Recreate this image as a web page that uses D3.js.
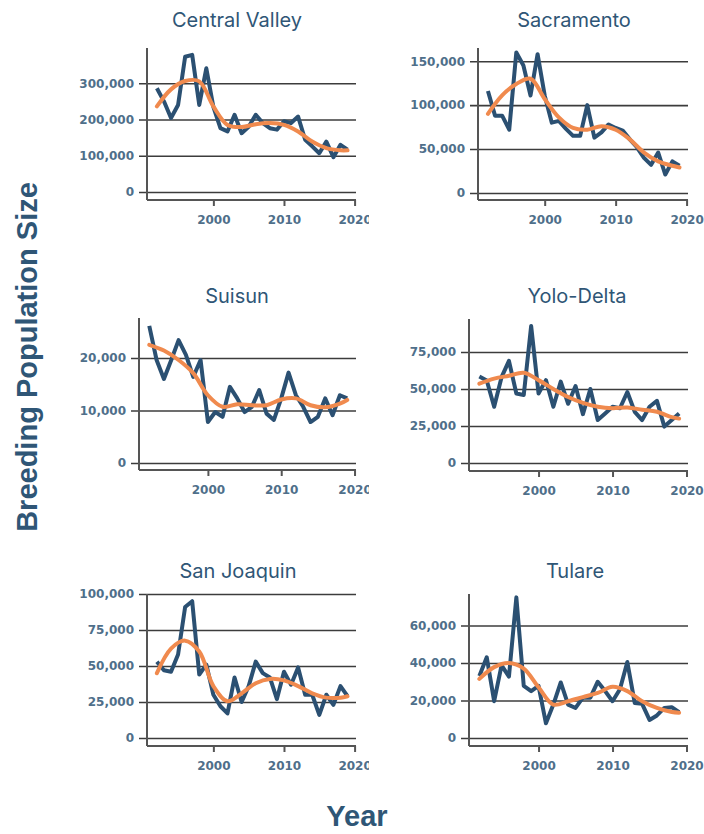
<!DOCTYPE html>
<html>
<head>
<meta charset="utf-8">
<script src="https://cdn.jsdelivr.net/npm/d3@7"></script>
<style>
  body { margin: 0; background: #fff; }
  .title { font-family: Inter, "Open Sans", sans-serif; font-size: 20px; fill: #2f5676; }
  .tick text { font-family: "DejaVu Sans", sans-serif; font-weight: bold; font-size: 12px; fill: #4f6f8a; }
  .axisText { font-family: "Liberation Sans", Arial, sans-serif; font-weight: bold; font-size: 29px; fill: #2f5676; }
</style>
</head>
<body>
<div class="chart"></div>
<script>
// Breeding population size by region, 1992-2019

var svgWidth = 704;
var svgHeight = 834;

var regions = ["Central Valley", "Sacramento", "Suisun", "Yolo-Delta", "San Joaquin", "Tulare"];

var years = [1992, 1993, 1994, 1995, 1996, 1997, 1998, 1999, 2000, 2001, 2002, 2003, 2004, 2005,
             2006, 2007, 2008, 2009, 2010, 2011, 2012, 2013, 2014, 2015, 2016, 2017, 2018, 2019];

// observed counts (blue)
var centralValley = [286000, 250000, 204000, 240000, 373000, 378000, 240000, 341000, 235000, 176000,
                     167000, 213000, 162000, 180000, 213000, 190000, 176000, 172000, 195000, 190000,
                     208000, 144000, 126000, 107000, 139000, 96000, 130000, 117000];
var sacramento = [116000, 88000, 88000, 72000, 160000, 145000, 111000, 158000, 111000, 80000,
                  82000, 73000, 65000, 65000, 100000, 63000, 69000, 78000, 74000, 71000,
                  61000, 52000, 40000, 32000, 46000, 21000, 36000, 31000];
var suisun = [26100, 19600, 16000, 19600, 23400, 20600, 16400, 19600, 7800, 9700,
              8800, 14500, 12300, 9700, 10700, 13900, 9400, 8200, 12300, 17200,
              12900, 10700, 7800, 8800, 12300, 9100, 12900, 12300];
var yoloDelta = [58500, 55800, 38000, 58000, 69000, 47000, 46000, 92600, 47000, 56000,
                 38000, 55000, 40000, 52000, 33000, 50000, 29000, 33500, 38000, 37000,
                 48000, 34600, 29000, 38000, 42000, 24600, 29000, 33500];
var sanJoaquin = [53000, 47000, 46000, 58000, 91000, 95000, 44000, 51000, 30000, 22000,
                  17000, 42000, 25000, 36000, 53000, 45000, 42000, 27000, 46000, 37000,
                  49000, 30000, 30000, 16000, 30000, 23000, 36000, 29000];
var tulare = [33000, 43000, 19600, 38700, 32700, 75000, 27800, 25000, 27800, 7800,
              17800, 29600, 17800, 16000, 21500, 21500, 30000, 25000, 19600, 26000,
              40500, 18700, 18200, 9600, 12000, 16000, 16400, 13800];

// smoothed trend (orange)
var trendYears = [1992, 1994, 1996, 1998, 2000, 2002, 2004, 2006, 2008, 2010, 2012, 2014, 2016, 2018, 2019];
var centralValleyTrend = [236000, 283000, 306000, 305000, 236000, 185000, 179000, 187000, 190000, 185000, 167000, 139000, 121000, 115000, 115000];
var sacramentoTrend = [90000, 111000, 124000, 130000, 107000, 86000, 74000, 72000, 76000, 72000, 61000, 46000, 36000, 31000, 29000];
var suisunTrend = [22500, 21400, 19600, 17100, 12900, 10700, 11200, 11000, 11000, 12100, 12300, 11000, 10600, 11300, 12000];
var yoloDeltaTrend = [53600, 57000, 59000, 61000, 56000, 50000, 44600, 40600, 38000, 37000, 37500, 36000, 34600, 31000, 30000];
var sanJoaquinTrend = [45000, 62000, 67600, 60000, 36000, 25500, 31000, 38000, 41000, 40000, 36000, 31000, 28000, 28000, 29000];
var tulareTrend = [31500, 37800, 40000, 37000, 27000, 17800, 19600, 21800, 24000, 27300, 25000, 19600, 16000, 13800, 13500];

var yTicks = [
  [0, 100000, 200000, 300000],
  [0, 50000, 100000, 150000],
  [0, 10000, 20000],
  [0, 25000, 50000, 75000],
  [0, 25000, 50000, 75000, 100000],
  [0, 20000, 40000, 60000]
];
var xTicks = [2000, 2010, 2020];

var seriesList = [centralValley, sacramento, suisun, yoloDelta, sanJoaquin, tulare];
var trendList = [centralValleyTrend, sacramentoTrend, suisunTrend, yoloDeltaTrend, sanJoaquinTrend, tulareTrend];

// panel boxes (pixel layout) and y extents
var panels = [
  { left: 147, right: 356, top: 48,  bottom: 200, yMin: -22000, yMax: 397000, tx: 237, ty: 27,  clip: 369 },
  { left: 478, right: 688, top: 48,  bottom: 200, yMin: -8000,  yMax: 165000, tx: 574, ty: 27,  clip: 704 },
  { left: 139, right: 356, top: 318, bottom: 470, yMin: -1330,  yMax: 27600,  tx: 237, ty: 303, clip: 369 },
  { left: 469, right: 688, top: 319, bottom: 471, yMin: -5400,  yMax: 97300,  tx: 577, ty: 303, clip: 704 },
  { left: 147, right: 356, top: 594, bottom: 746, yMin: -5600,  yMax: 100000, tx: 238, ty: 578, clip: 369 },
  { left: 469, right: 688, top: 594, bottom: 746, yMin: -4300,  yMax: 76800,  tx: 575, ty: 578, clip: 704 }
];

var svg = d3.select(".chart")
  .append("svg")
  .attr("width", svgWidth)
  .attr("height", svgHeight);

var defs = svg.append("defs");

panels.forEach(function(p, i) {
  var width = p.right - p.left;
  var height = p.bottom - p.top;

  defs.append("clipPath")
    .attr("id", "clip" + i)
    .append("rect")
    .attr("x", 0).attr("y", 0)
    .attr("width", p.clip).attr("height", svgHeight);

  var outer = svg.append("g").attr("clip-path", "url(#clip" + i + ")");

  outer.append("text")
    .attr("class", "title")
    .attr("x", p.tx)
    .attr("y", p.ty)
    .attr("text-anchor", "middle")
    .text(regions[i]);

  var chart = outer.append("g")
    .attr("transform", "translate(" + p.left + "," + p.top + ")");

  var xLinearScale = d3.scaleLinear().domain([1990.6, 2020.2]).range([0, width]);
  var yLinearScale = d3.scaleLinear().domain([p.yMin, p.yMax]).range([height, 0]);

  // gridlines + y labels
  var leftAxis = d3.axisLeft(yLinearScale)
    .tickValues(yTicks[i])
    .tickSize(-width)
    .tickPadding(13)
    .tickFormat(d3.format(","));
  var gy = chart.append("g").call(leftAxis);
  gy.select(".domain").remove();
  gy.selectAll(".tick line")
    .attr("x1", -8)
    .attr("stroke", "#3c3c3c")
    .attr("stroke-width", 1.6);

  // x axis
  var bottomAxis = d3.axisBottom(xLinearScale)
    .tickValues(xTicks)
    .tickSize(6)
    .tickPadding(6)
    .tickFormat(d3.format("d"));
  var gx = chart.append("g")
    .attr("transform", "translate(0," + height + ")")
    .call(bottomAxis);
  gx.select(".domain").remove();
  gx.selectAll(".tick line").attr("stroke", "#555").attr("stroke-width", 2);
  gx.selectAll(".tick text").attr("font-size", 12).attr("dy", "1em");

  chart.append("line")
    .attr("x1", 0).attr("x2", width)
    .attr("y1", height).attr("y2", height)
    .attr("stroke", "#555").attr("stroke-width", 2);
  chart.append("line")
    .attr("x1", 0).attr("x2", 0)
    .attr("y1", 0).attr("y2", height)
    .attr("stroke", "#555").attr("stroke-width", 2);

  var series = years.map(function(y, k) { return { year: y, value: seriesList[i][k] }; });
  var trend = trendYears.map(function(y, k) { return { year: y, value: trendList[i][k] }; });

  var line = d3.line()
    .x(function(d) { return xLinearScale(d.year); })
    .y(function(d) { return yLinearScale(d.value); });

  chart.append("path")
    .datum(series)
    .attr("d", line)
    .attr("fill", "none")
    .attr("stroke", "#2b5072")
    .attr("stroke-width", 4)
    .attr("stroke-linejoin", "round");

  chart.append("path")
    .datum(trend)
    .attr("d", line.curve(d3.curveCatmullRom.alpha(0.5)))
    .attr("fill", "none")
    .attr("stroke", "#f08a4e")
    .attr("stroke-width", 4)
    .attr("stroke-linecap", "round");
});

// axis titles
svg.append("text")
  .attr("class", "axisText")
  .attr("transform", "translate(37," + 357 + ") rotate(-90)")
  .attr("text-anchor", "middle")
  .text("Breeding Population Size");

svg.append("text")
  .attr("class", "axisText")
  .attr("x", 357)
  .attr("y", 826)
  .attr("text-anchor", "middle")
  .text("Year");
</script>
</body>
</html>
